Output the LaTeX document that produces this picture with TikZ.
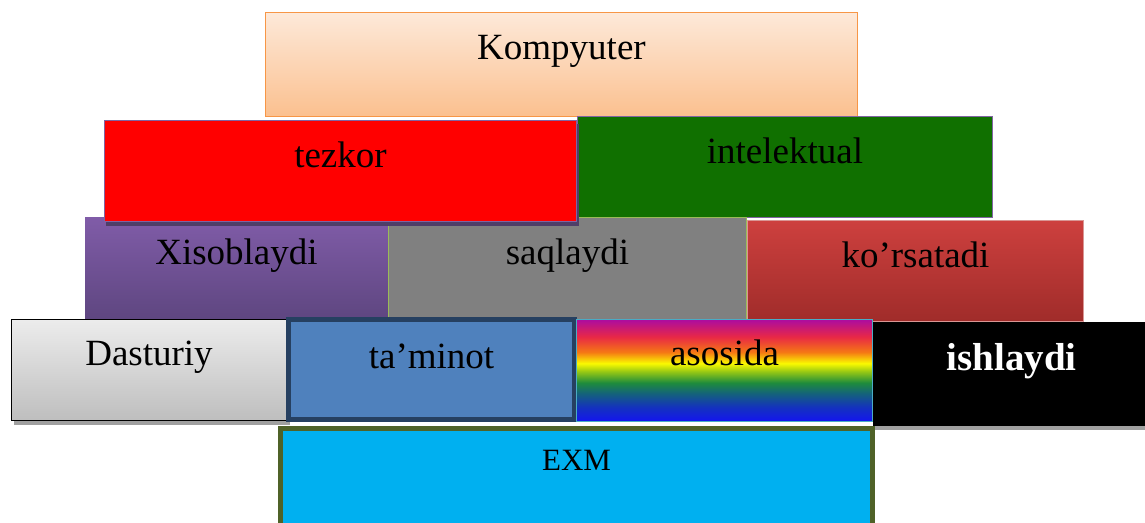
\documentclass[tikz,border=0pt]{standalone}
\usepackage{fontspec}
\setmainfont{Liberation Serif}
\usetikzlibrary{calc}
\definecolor{kompTop}{RGB}{253,233,217}
\definecolor{kompBot}{RGB}{251,192,143}
\definecolor{kompLine}{RGB}{247,150,70}
\definecolor{purLine}{RGB}{128,100,162}
\definecolor{tezShadow}{RGB}{78,62,104}
\definecolor{intFill}{RGB}{16,112,0}
\definecolor{xisTop}{RGB}{128,92,168}
\definecolor{xisBot}{RGB}{94,70,128}
\definecolor{saqFill}{RGB}{128,128,128}
\definecolor{saqLine}{RGB}{155,187,89}
\definecolor{korTop}{RGB}{205,64,62}
\definecolor{korBot}{RGB}{160,44,42}
\definecolor{korLine}{RGB}{217,150,148}
\definecolor{dasTop}{RGB}{236,236,236}
\definecolor{dasBot}{RGB}{190,190,190}
\definecolor{graySh}{RGB}{160,160,160}
\definecolor{tamFill}{RGB}{79,129,189}
\definecolor{tamLine}{RGB}{38,64,97}
\definecolor{asoLine}{RGB}{75,172,198}
\definecolor{exmFill}{RGB}{0,176,240}
\definecolor{exmLine}{RGB}{79,98,40}
\definecolor{rbA}{RGB}{20,20,240}
\definecolor{rbB}{RGB}{20,50,190}
\definecolor{rbC}{RGB}{20,100,120}
\definecolor{rbD}{RGB}{30,140,60}
\definecolor{rbE}{RGB}{150,200,20}
\definecolor{rbF}{RGB}{250,250,0}
\definecolor{rbG}{RGB}{245,120,20}
\definecolor{rbH}{RGB}{232,40,70}
\definecolor{rbI}{RGB}{172,12,160}
\pgfdeclareverticalshading{rainbowsh}{100bp}{color(0bp)=(rbA); color(25bp)=(rbA); color(32bp)=(rbB); color(39bp)=(rbC); color(44bp)=(rbD); color(49.5bp)=(rbE); color(53.5bp)=(rbF); color(59bp)=(rbG); color(66.5bp)=(rbH); color(75bp)=(rbI); color(100bp)=(rbI)}
\tikzset{
  box/.style={rectangle, inner sep=0pt, outer sep=0pt},
  txt/.style={font=\fontsize{37}{40}\selectfont, inner sep=0pt, anchor=base, text=black},
}
\begin{document}
\begin{tikzpicture}[x=1pt, y=-1pt]
\useasboundingbox (0,0) rectangle (1145,522);
\fill[white] (0,0) rectangle (1145,522);
\clip (0,0) rectangle (1145,522);
% row 1
\node[box, draw=kompLine, line width=1.5pt, top color=kompTop, bottom color=kompBot, minimum width=592pt, minimum height=104pt] (komp) at (561.5,64.5) {};
\node[txt] (kompt) at ($(komp.north)+(0,47)$) {Kompyuter};
% row 2 right and row 3
\node[box, draw=purLine, line width=1.5pt, fill=intFill, minimum width=415pt, minimum height=101pt] (intel) at (785,167) {};
\node[txt] (intelt) at ($(intel.north)+(0,47)$) {intelektual};
\node[box, fill=xisTop, top color=xisTop, bottom color=xisBot, minimum width=303pt, minimum height=103pt] (xisob) at (236.5,268.5) {};
\node[txt] (xisobt) at ($(xisob.north)+(0,47)$) {Xisoblaydi};
\node[box, draw=saqLine, line width=1.2pt, fill=saqFill, minimum width=358pt, minimum height=102pt] (saql) at (567.5,268.5) {};
\node[txt] (saqlt) at ($(saql.north)+(0,47)$) {saqlaydi};
\node[box, draw=korLine, line width=1pt, top color=korTop, bottom color=korBot, minimum width=336pt, minimum height=101pt] (kors) at (915.5,271) {};
\node[txt] (korst) at ($(kors.north)+(0,47)$) {ko’rsatadi};
% row 2 left
\fill[tezShadow] (106,124) rectangle (579,226);
\node[box, draw=purLine, line width=1.5pt, fill=red, minimum width=472pt, minimum height=101pt] (tez) at (340.5,171) {};
\node[txt] (tezt) at ($(tez.north)+(0,47)$) {tezkor};
% row 4
\fill[graySh] (14,323) rectangle (290,425);
\node[box, draw=black, line width=1.5pt, top color=dasTop, bottom color=dasBot, minimum width=275pt, minimum height=101pt] (dast) at (149,370) {};
\node[txt] (dastt) at ($(dast.north)+(0,46)$) {Dasturiy};
\node[box, draw=tamLine, line width=4.5pt, fill=tamFill, minimum width=286pt, minimum height=100pt] (tamin) at (431.5,369.5) {};
\node[txt] (tamint) at ($(tamin.north)+(0,49)$) {ta’minot};
\node[box, draw=asoLine, line width=1.5pt, shading=rainbowsh, minimum width=296pt, minimum height=102pt] (asos) at (724.5,370.5) {};
\node[txt] (asost) at ($(asos.north)+(0,46)$) {asosida};
\fill[graySh] (873,326) rectangle (1150,430);
\node[box, fill=black, minimum width=277pt, minimum height=104pt] (ishl) at (1011.5,374) {};
\node[txt, text=white, font=\fontsize{39}{42}\selectfont\bfseries] (ishlt) at ($(ishl.north)+(0,48)$) {ishlaydi};
% row 5
\node[box, draw=exmLine, line width=5pt, fill=exmFill, minimum width=592pt, minimum height=101pt] (exm) at (576.5,479) {};
\node[txt, font=\fontsize{31}{34}\selectfont] (exmt) at ($(exm.north)+(0,42)$) {EXM};
\end{tikzpicture}
\end{document}
